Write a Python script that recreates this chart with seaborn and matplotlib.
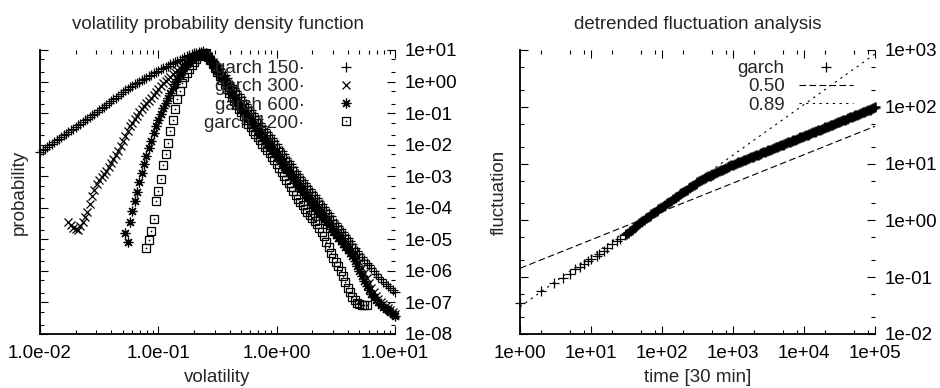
import matplotlib
matplotlib.use('Agg')
import matplotlib.pyplot as plt
from matplotlib.ticker import LogLocator, FuncFormatter, NullFormatter
import seaborn as sns

# ---- volatility pdf (left panel) ----
# volatility values of the rising branch (every series ends at 0.240)
vol_left = [0.0100, 0.0105, 0.0110, 0.0115, 0.0120, 0.0126, 0.0132, 0.0138, 0.0145, 0.0151,
            0.0158, 0.0166, 0.0174, 0.0182, 0.0191, 0.0200, 0.0209, 0.0219, 0.0229, 0.0240,
            0.0251, 0.0263, 0.0275, 0.0288, 0.0302, 0.0316, 0.0331, 0.0347, 0.0363, 0.0380,
            0.0398, 0.0417, 0.0437, 0.0457, 0.0479, 0.0501, 0.0525, 0.0550, 0.0575, 0.0603,
            0.0631, 0.0661, 0.0692, 0.0724, 0.0759, 0.0794, 0.0832, 0.0871, 0.0912, 0.0955,
            0.100, 0.105, 0.110, 0.115, 0.120, 0.126, 0.132, 0.138, 0.145, 0.151,
            0.158, 0.166, 0.174, 0.182, 0.191, 0.200, 0.209, 0.219, 0.229, 0.240]
# volatility values of the falling branch (every series starts at 0.251)
vol_right = [0.251, 0.263, 0.275, 0.288, 0.302, 0.316, 0.331, 0.347, 0.363, 0.380,
             0.398, 0.417, 0.437, 0.457, 0.479, 0.501, 0.525, 0.550, 0.575, 0.603,
             0.631, 0.661, 0.692, 0.724, 0.759, 0.794, 0.832, 0.871, 0.912, 0.955,
             1.00, 1.05, 1.10, 1.15, 1.20, 1.26, 1.32, 1.38, 1.45, 1.51,
             1.58, 1.66, 1.74, 1.82, 1.91, 2.00, 2.09, 2.19, 2.29, 2.40,
             2.51, 2.63, 2.75, 2.88, 3.02, 3.16, 3.31, 3.47, 3.63, 3.80,
             3.98, 4.17, 4.37, 4.57, 4.79, 5.01, 5.25, 5.50, 5.75, 6.03,
             6.31, 6.61, 6.92, 7.24, 7.59, 7.94, 8.32, 8.71, 9.12, 9.55, 10.0]

# garch 150
g150_pdf_left = [5.9e-3, 6.65e-3, 7.5e-3, 8.4e-3, 9.5e-3, 0.0108, 0.0122, 0.0138, 0.0155, 0.0175,
                 0.0197, 0.0222, 0.0251, 0.0283, 0.0319, 0.0361, 0.0409, 0.0462, 0.0521, 0.0587,
                 0.0662, 0.0747, 0.0842, 0.0958, 0.109, 0.124, 0.141, 0.161, 0.184, 0.210,
                 0.239, 0.272, 0.310, 0.354, 0.404, 0.461, 0.525, 0.594, 0.673, 0.742,
                 0.819, 0.904, 0.998, 1.10, 1.21, 1.34, 1.48, 1.64, 1.81, 2.00,
                 2.21, 2.44, 2.69, 2.94, 3.21, 3.49, 3.79, 4.12, 4.48, 4.89,
                 5.34, 5.80, 6.31, 6.86, 7.46, 7.88, 8.33, 8.64, 8.96, 9.0]
g150_pdf_right = [8.0, 6.69, 5.6, 4.49, 3.6, 3.0, 2.5, 2.0, 1.6, 1.25,
                  0.97, 0.78, 0.63, 0.50, 0.40, 0.32, 0.26, 0.201, 0.156, 0.126,
                  0.101, 0.081, 0.065, 0.050, 0.039, 0.031, 0.025, 0.0202, 0.0163, 0.0131,
                  0.0105, 0.0081, 0.0063, 0.0049, 0.0038, 0.0030, 0.0024, 0.0019, 0.0015, 1.19e-3,
                  9.5e-4, 7.6e-4, 6.1e-4, 4.9e-4, 3.9e-4, 3.1e-4, 2.5e-4, 2.0e-4, 1.6e-4, 1.3e-4,
                  1.06e-4, 8.5e-5, 6.8e-5, 5.3e-5, 4.1e-5, 3.3e-5, 2.65e-5, 2.1e-5, 1.7e-5, 1.37e-5,
                  1.1e-5, 8.8e-6, 7.1e-6, 5.5e-6, 4.3e-6, 3.5e-6, 2.8e-6, 2.2e-6, 1.8e-6, 1.5e-6,
                  1.24e-6, 1.0e-6, 8.0e-7, 6.6e-7, 5.5e-7, 4.6e-7, 3.85e-7, 3.3e-7, 2.9e-7, 2.5e-7,
                  2.15e-7]

# garch 300
g300_pdf_left = [3.5e-5, 2.8e-5, 2.3e-5, 2.1e-5, 2.0e-5, 2.6e-5, 3.5e-5, 5.1e-5, 7.4e-5, 1.33e-4,
                 2.4e-4, 3.7e-4, 5.7e-4, 7.4e-4, 9.5e-4, 1.18e-3, 1.47e-3, 1.95e-3, 2.6e-3, 3.5e-3,
                 4.7e-3, 6.5e-3, 9.1e-3, 0.0131, 0.0188, 0.0271, 0.039, 0.050, 0.065, 0.084,
                 0.108, 0.135, 0.168, 0.202, 0.242, 0.301, 0.375, 0.467, 0.581, 0.723,
                 0.90, 1.04, 1.20, 1.44, 1.74, 2.01, 2.32, 2.69, 3.11, 3.60,
                 4.17, 4.65, 5.19, 5.79, 6.46, 6.95, 7.47, 7.9]
g300_pdf_right = [8.0, 6.45, 5.2, 4.17, 3.35, 2.59, 2.01, 1.55, 1.20, 0.93,
                  0.723, 0.56, 0.434, 0.336, 0.26, 0.209, 0.168, 0.130, 0.101, 0.081,
                  0.065, 0.052, 0.042, 0.0325, 0.0252, 0.0203, 0.0163, 0.0131, 0.0105, 0.0085,
                  0.0068, 0.0053, 0.0041, 0.0032, 0.00244, 0.00196, 0.00158, 1.22e-3, 9.5e-4, 7.6e-4,
                  6.1e-4, 4.9e-4, 3.9e-4, 3.1e-4, 2.5e-4, 2.0e-4, 1.6e-4, 1.3e-4, 1.06e-4, 8.5e-5,
                  6.8e-5, 5.5e-5, 4.4e-5, 3.4e-5, 2.65e-5, 2.1e-5, 1.7e-5, 1.37e-5, 1.1e-5, 8.8e-6,
                  7.1e-6, 5.7e-6, 4.6e-6, 3.6e-6, 2.8e-6, 1.86e-6, 1.24e-6, 8.6e-7, 6.0e-7, 4.2e-7,
                  2.9e-7, 2.15e-7, 1.6e-7, 1.29e-7, 1.04e-7, 8.9e-8, 7.7e-8, 6.7e-8, 5.8e-8, 5.0e-8,
                  4.3e-8]

# garch 600
g600_pdf_left = [1.59e-5, 8.2e-6, 3.5e-5, 7.9e-5, 1.64e-4, 3.2e-4, 6.6e-4, 1.26e-3, 2.44e-3, 4.4e-3,
                 7.8e-3, 0.0131, 0.0234, 0.039, 0.0605, 0.0938, 0.145, 0.209, 0.301, 0.434,
                 0.625, 0.836, 1.20, 1.61, 2.16, 2.89, 3.60, 4.48, 5.58, 6.46,
                 6.95, 7.47, 8.04, 8.3]
g600_pdf_right = [8.0, 6.21, 4.82, 3.73, 2.89, 2.16, 1.61, 1.25, 0.968, 0.70,
                  0.502, 0.389, 0.301, 0.225, 0.168, 0.135, 0.108, 0.084, 0.065, 0.052,
                  0.042, 0.0338, 0.0272, 0.0211, 0.0163, 0.0131, 0.0105, 0.0085, 0.0068, 0.0055,
                  0.0044, 0.0034, 0.0026, 0.00203, 0.00158, 1.27e-3, 1.02e-3, 7.9e-4, 6.1e-4, 4.9e-4,
                  3.9e-4, 3.1e-4, 2.5e-4, 2.0e-4, 1.6e-4, 1.3e-4, 1.06e-4, 8.5e-5, 6.8e-5, 5.5e-5,
                  4.4e-5, 3.5e-5, 2.85e-5, 2.2e-5, 1.7e-5, 1.37e-5, 1.1e-5, 8.8e-6, 7.1e-6, 5.7e-6,
                  4.6e-6, 3.7e-6, 2.97e-6, 2.06e-6, 1.43e-6, 9.9e-7, 6.9e-7, 4.8e-7, 3.3e-7, 2.5e-7,
                  1.86e-7, 1.5e-7, 1.2e-7, 1.0e-7, 8.3e-8, 7.2e-8, 6.2e-8, 5.6e-8, 5.0e-8, 4.3e-8,
                  3.7e-8]

# garch 1200
g1200_pdf_left = [5.3e-6, 9.5e-6, 1.84e-5, 4.4e-5, 1.6e-4, 3.4e-4, 8.2e-4, 2.27e-3, 5.1e-3, 0.0113,
                  0.0272, 0.0605, 0.135, 0.280, 0.502, 0.90, 1.40, 1.87, 2.50, 3.35,
                  4.17, 5.19, 6.46, 6.95, 7.47]
g1200_pdf_right = [8.0, 6.21, 4.82, 3.60, 2.69, 2.01, 1.50, 1.12, 0.837, 0.60,
                   0.434, 0.324, 0.242, 0.181, 0.135, 0.105, 0.081, 0.061, 0.0452, 0.0351,
                   0.0272, 0.0218, 0.0175, 0.0136, 0.0105, 0.0085, 0.0068, 0.0053, 0.0041, 0.0032,
                   0.00244, 0.00182, 0.00136, 1.02e-3, 7.6e-4, 5.9e-4, 4.6e-4, 3.4e-4, 2.5e-4, 1.96e-4,
                   1.53e-4, 1.19e-4, 9.2e-5, 7.4e-5, 5.9e-5, 4.7e-5, 3.8e-5, 3.0e-5, 2.3e-5, 1.72e-5,
                   1.28e-5, 8.5e-6, 5.7e-6, 3.8e-6, 2.57e-6, 1.92e-6, 1.43e-6, 9.9e-7, 6.9e-7, 4.5e-7,
                   2.9e-7, 2.1e-7, 1.49e-7, 1.2e-7, 9.6e-8, 8.9e-8, 8.3e-8, 8.3e-8, 8.3e-8]

pdf_labels = ['garch 150·', 'garch 300·', 'garch 600·', 'garch 1200·']

# ---- detrended fluctuation analysis (right panel) ----
dfa_t_sparse = [1, 2, 3, 4, 5, 6, 7, 8, 9, 10, 12, 13, 15, 17, 20, 23, 26, 30]
dfa_F_sparse = [0.0351, 0.0583, 0.0775, 0.0968, 0.116, 0.137, 0.154, 0.174, 0.189, 0.205,
                0.236, 0.261, 0.295, 0.327, 0.384, 0.434, 0.480, 0.553]
dfa_t_dense = [31.6, 33.5, 35.5, 37.6, 39.8, 42.2, 44.7, 47.3, 50.1, 53.1,
               56.2, 59.6, 63.1, 66.8, 70.8, 75.0, 79.4, 84.1, 89.1, 94.4,
               100, 106, 112, 119, 126, 133, 141, 150, 158, 168,
               178, 188, 200, 211, 224, 237, 251, 266, 282, 299,
               316, 335, 355, 376, 398, 422, 447, 473, 501, 531,
               562, 596, 631, 668, 708, 750, 794, 841, 891, 944,
               1000, 1059, 1122, 1189, 1259, 1334, 1413, 1496, 1585, 1679,
               1778, 1884, 1995, 2113, 2239, 2371, 2512, 2661, 2818, 2985,
               3162, 3350, 3548, 3758, 3981, 4217, 4467, 4732, 5012, 5309,
               5623, 5957, 6310, 6683, 7079, 7499, 7943, 8414, 8913, 9441,
               10000, 10590, 11220, 11890, 12590, 13340, 14130, 14960, 15850, 16790,
               17780, 18840, 19950, 21130, 22390, 23710, 25120, 26610, 28180, 29850,
               31620, 33500, 35480, 37580, 39810, 42170, 44670, 47320, 50120, 53090,
               56230, 59570, 63100, 66830, 70790, 74990, 79430, 84140, 89130, 94410, 100000]
dfa_F_dense = [0.581, 0.612, 0.646, 0.687, 0.731, 0.780, 0.834, 0.883, 0.929, 0.977,
               1.028, 1.081, 1.140, 1.211, 1.282, 1.346, 1.409, 1.483, 1.560, 1.641,
               1.726, 1.811, 1.905, 2.004, 2.109, 2.218, 2.339, 2.472, 2.588, 2.716,
               2.858, 3.006, 3.155, 3.311, 3.491, 3.681, 3.864, 4.064, 4.256, 4.446,
               4.656, 4.875, 5.093, 5.309, 5.521, 5.741, 5.929, 6.124, 6.353, 6.607,
               6.871, 7.145, 7.396, 7.638, 7.852, 8.091, 8.337, 8.610, 8.933, 9.268,
               9.59, 9.88, 10.17, 10.47, 10.77, 11.09, 11.41, 11.75, 12.09, 12.45,
               12.82, 13.19, 13.58, 13.98, 14.39, 14.81, 15.25, 15.70, 16.16, 16.63,
               17.12, 17.63, 18.14, 18.67, 19.22, 19.79, 20.37, 20.97, 21.58, 22.22,
               22.87, 23.54, 24.23, 24.95, 25.68, 26.43, 27.21, 28.01, 28.83, 29.68,
               30.55, 31.45, 32.37, 33.32, 34.30, 35.31, 36.35, 37.41, 38.51, 39.64,
               40.81, 42.01, 43.24, 44.51, 45.82, 47.16, 48.55, 49.98, 51.45, 52.96,
               54.52, 56.12, 57.77, 59.47, 61.22, 63.02, 64.87, 66.78, 68.74, 70.76,
               72.85, 74.99, 77.19, 79.43, 81.78, 84.18, 86.65, 89.20, 91.82, 94.49, 97.27]
# fitted power laws (slopes 0.50 and 0.89), end points
fit_t = [1, 100000]
fit050_F = [0.1435, 45.4]
fit089_F = [0.0302, 851]

# ---- style ----
sns.set_theme(style='white')
plt.rcParams['font.family'] = ['Liberation Sans', 'DejaVu Sans']
FS = 13.5
plt.rcParams['font.size'] = FS
plt.rcParams['axes.titlesize'] = FS
plt.rcParams['axes.labelsize'] = FS
plt.rcParams['xtick.labelsize'] = FS
plt.rcParams['ytick.labelsize'] = FS

fig = plt.figure(figsize=(9.4, 3.88), dpi=100)
ax1 = fig.add_axes([40 / 940, 54 / 388, 355 / 940, 284 / 388])
ax2 = fig.add_axes([520 / 940, 54 / 388, 355 / 940, 284 / 388])


def setup_axes(ax, xsubs, ysubs, xfmt, yfmt):
    ax.set_xscale('log')
    ax.set_yscale('log')
    ax.set_facecolor('white')
    for side in ['top', 'right']:
        ax.spines[side].set_visible(False)
    for side in ['left', 'bottom']:
        ax.spines[side].set_linewidth(1.3)
        ax.spines[side].set_color('black')
    ax.xaxis.set_major_locator(LogLocator(base=10, numticks=20))
    ax.yaxis.set_major_locator(LogLocator(base=10, numticks=20))
    ax.xaxis.set_minor_locator(LogLocator(base=10, subs=xsubs, numticks=20))
    ax.yaxis.set_minor_locator(LogLocator(base=10, subs=ysubs, numticks=20))
    ax.xaxis.set_minor_formatter(NullFormatter())
    ax.yaxis.set_minor_formatter(NullFormatter())
    ax.xaxis.set_major_formatter(FuncFormatter(xfmt))
    ax.yaxis.set_major_formatter(FuncFormatter(yfmt))
    ax.tick_params(which='both', direction='in', top=True, bottom=True, left=True, right=True,
                   labelleft=False, labelright=True, color='black', labelcolor='black', width=0.8)
    ax.tick_params(which='major', length=6)
    ax.tick_params(which='minor', length=3)
    ax.tick_params(axis='x', which='major', pad=8)
    ax.tick_params(axis='y', which='major', pad=7)


setup_axes(ax1, (2, 3, 4, 5, 6, 7, 8, 9), (2, 5),
           lambda v, p: f'{v:.1e}', lambda v, p: f'{v:.0e}')
setup_axes(ax2, (2, 5, 8), (2, 5),
           lambda v, p: f'{v:.0e}', lambda v, p: f'{v:.0e}')

mk = dict(ls='', color='black', mec='black', estimator=None, sort=False, clip_on=False, legend=False)


def branch_x(left, right):
    # rising branch ends at 0.240, falling branch starts at 0.251
    return vol_left[-len(left):] + vol_right[:len(right)]


# left panel: four pdfs
sns.lineplot(x=branch_x(g150_pdf_left, g150_pdf_right), y=g150_pdf_left + g150_pdf_right,
             marker='+', ms=7, mew=0.9, ax=ax1, **mk)
l150 = ax1.lines[-1]
sns.lineplot(x=branch_x(g300_pdf_left, g300_pdf_right), y=g300_pdf_left + g300_pdf_right,
             marker='x', ms=6, mew=0.9, ax=ax1, **mk)
l300 = ax1.lines[-1]
sns.lineplot(x=branch_x(g600_pdf_left, g600_pdf_right), y=g600_pdf_left + g600_pdf_right,
             marker=(8, 2, 0), ms=7, mew=0.9, ax=ax1, **mk)
l600 = ax1.lines[-1]
x1200 = branch_x(g1200_pdf_left, g1200_pdf_right)
y1200 = g1200_pdf_left + g1200_pdf_right
sns.lineplot(x=x1200, y=y1200, marker='s', ms=6, mew=0.9, mfc='none', ax=ax1, **mk)
l1200 = ax1.lines[-1]
sns.lineplot(x=x1200, y=y1200, marker='.', ms=1.5, mew=0.5, ax=ax1, **mk)
l1200dot = ax1.lines[-1]

ax1.set_xlim(1e-2, 1e1)
ax1.set_ylim(1e-8, 1e1)
ax1.set_title('volatility probability density function', pad=15)
ax1.set_xlabel('volatility', labelpad=5)
ax1.set_ylabel('probability', labelpad=9)
ax1.legend([l150, l300, l600, (l1200, l1200dot)], pdf_labels,
           loc='upper right', bbox_to_anchor=(0.938, 0.965), frameon=False,
           markerfirst=False, handlelength=2.9, handletextpad=0.75,
           labelspacing=0.06, borderpad=0, borderaxespad=0, fontsize=FS)

# right panel: DFA with two fitted power laws
sns.lineplot(x=dfa_t_sparse, y=dfa_F_sparse, marker='+', ms=7, mew=0.9, ax=ax2, **mk)
lg = ax2.lines[-1]
# many overlapping windows: drawn as a solid band of the same markers
sns.lineplot(x=dfa_t_dense, y=dfa_F_dense, marker='+', ms=7, mew=1.8, ax=ax2, **mk)
sns.lineplot(x=fit_t, y=fit050_F, color='black', lw=0.8, estimator=None, legend=False, ax=ax2)
l050 = ax2.lines[-1]
l050.set_dashes([6, 3])
sns.lineplot(x=fit_t, y=fit089_F, color='black', lw=0.8, estimator=None, legend=False, ax=ax2)
l089 = ax2.lines[-1]
l089.set_dashes([2, 4])

ax2.set_xlim(1, 1e5)
ax2.set_ylim(1e-2, 1e3)
ax2.set_title('detrended fluctuation analysis', pad=15)
ax2.set_xlabel('time [30 min]', labelpad=5)
ax2.set_ylabel('fluctuation', labelpad=9)
ax2.legend([lg, l050, l089], ['garch', '0.50', '0.89'],
           loc='upper right', bbox_to_anchor=(0.938, 0.965), frameon=False,
           markerfirst=False, handlelength=2.9, handletextpad=0.75,
           labelspacing=0.06, borderpad=0, borderaxespad=0, fontsize=FS)

fig.savefig('out.png', dpi=100, facecolor='white')
